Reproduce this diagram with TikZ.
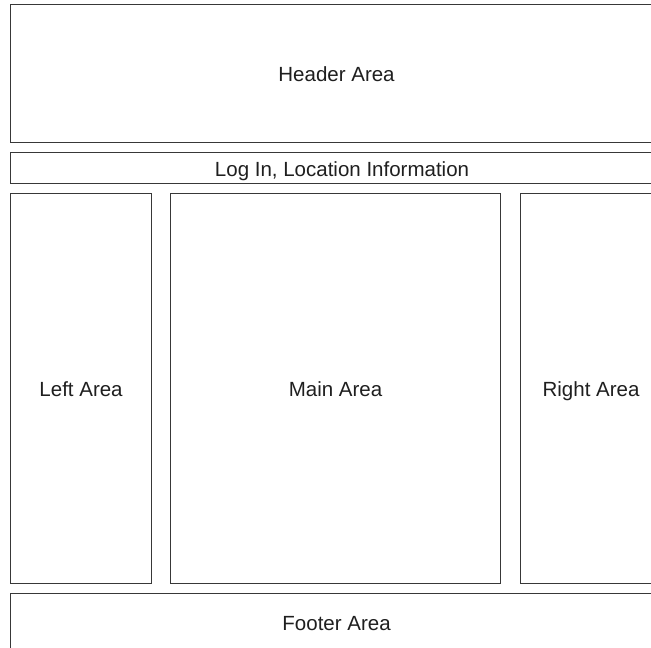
\documentclass[tikz,border=0pt]{standalone}
\usepackage{fontspec}
\setmainfont{Liberation Sans}
\begin{document}
\begin{tikzpicture}[x=1pt,y=-1pt,
  area/.style={draw=black!78, line width=1.1pt, fill=white, rectangle, inner sep=0pt,
    anchor=north west, font=\fontsize{20.5}{24}\selectfont, text=black!88,
    text height=17.5pt, text depth=1pt}]
\useasboundingbox (0,0) rectangle (651,648);
\fill[white] (0,0) rectangle (651,648);
\clip (0,0) rectangle (651,648);
\node[area, minimum width=652pt, minimum height=138pt] (header) at (10,4) {Header Area};
\node[area, minimum width=663pt, minimum height=31pt] (login) at (10,152) {Log In, Location Information};
\node[area, minimum width=141pt, minimum height=390pt] (left) at (10,193) {Left Area};
\node[area, minimum width=330pt, minimum height=390pt] (main) at (170,193) {Main Area};
\node[area, minimum width=141pt, minimum height=390pt] (right) at (520,193) {Right Area};
\node[area, minimum width=652pt, minimum height=58pt] (footer) at (10,593) {Footer Area};
\end{tikzpicture}
\end{document}
